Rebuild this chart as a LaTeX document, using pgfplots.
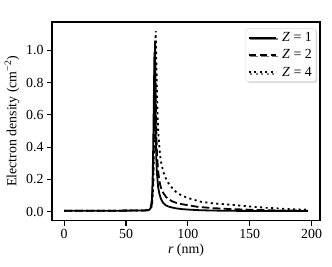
\documentclass[border=0pt]{standalone}
\usepackage{fontspec}
\setmainfont{Liberation Serif}
\usepackage{pgfplots}
\pgfplotsset{compat=1.18}
\usetikzlibrary{shadows}
\begin{document}
\begin{tikzpicture}
\begin{axis}[
  scale only axis,
  width=268pt, height=198.7pt,
  xmin=-9.85, xmax=206.85,
  ymin=-0.056, ymax=1.176,
  xtick={0,50,100,150,200},
  ytick={0,0.2,0.4,0.6,0.8,1.0},
  yticklabel style={/pgf/number format/.cd,fixed,fixed zerofill,precision=1},
  /pgf/number format/assume math mode=true,
  tick label style={font=\fontsize{13.9}{16}\selectfont},
  tick align=outside,
  major tick length=4.9pt,
  tick style={black, line width=1.1pt},
  xtick pos=bottom, ytick pos=left,
  axis line style={line width=1.1pt},
  xlabel={\textit{r} (nm)},
  ylabel={Electron density (cm\textsuperscript{−2})},
  label style={font=\fontsize{13.9}{16}\selectfont},
  xlabel style={at={(axis description cs:0.5,-0.148)}, anchor=center},
  ylabel style={at={(axis description cs:-0.149,0.5)}, anchor=center},
  legend style={at={(0.985,0.968)}, anchor=north east, draw=gray!30, rounded corners=2.5pt,
    fill=white, drop shadow={shadow xshift=1.5pt, shadow yshift=-1.5pt, fill=gray!55},
    font=\fontsize{13.9}{16}\selectfont, row sep=2.5pt, column sep=3pt, inner xsep=2pt, inner ysep=2pt},
  legend cell align=left,
  legend image code/.code={\draw[#1] (0pt,0pt) -- (27.5pt,0pt);},
  clip=true,
]
\addplot[black, line width=1.8pt] coordinates {
(0,0.006) (20,0.006) (40,0.006) (60,0.007) (66,0.008) (69,0.012) (70,0.025) (71,0.08) (71.5,0.2) (72,0.4) (72.5,0.7) (73,0.99) (73.5,0.8) (74,0.5) (74.5,0.33) (75,0.24) (76,0.15) (77,0.11) (78,0.085) (79,0.068) (80,0.055) (82,0.04) (85,0.03) (90,0.021) (95,0.016) (100,0.013) (110,0.009) (120,0.007) (140,0.005) (160,0.0045) (180,0.004) (197,0.004)
};
\addlegendentry{\textit{Z} = 1}
\addplot[black, line width=1.8pt, dash pattern=on 7.7pt off 3.3pt] coordinates {
(0,0.006) (20,0.006) (40,0.006) (60,0.007) (66,0.008) (69,0.011) (70,0.02) (71,0.05) (72,0.2) (72.5,0.45) (73,0.8) (73.5,1.06) (74,0.75) (74.5,0.5) (75,0.36) (76,0.25) (77,0.19) (78,0.155) (79,0.135) (80,0.118) (82,0.095) (84,0.078) (88,0.062) (92,0.051) (100,0.04) (108,0.03) (120,0.022) (135,0.016) (150,0.012) (165,0.009) (180,0.007) (197,0.006)
};
\addlegendentry{\textit{Z} = 2}
\addplot[black, line width=1.8pt, dash pattern=on 2.1pt off 3.4pt] coordinates {
(0,0.006) (20,0.006) (40,0.006) (60,0.007) (66,0.008) (69,0.01) (70,0.015) (71,0.04) (72,0.15) (72.5,0.35) (73,0.65) (73.5,0.95) (74,1.12) (74.5,0.95) (75,0.75) (75.5,0.6) (76,0.5) (77,0.4) (78,0.32) (80,0.25) (82,0.21) (84,0.18) (87,0.15) (90,0.125) (95,0.1) (100,0.085) (110,0.062) (120,0.052) (136,0.042) (150,0.032) (164,0.024) (180,0.017) (197,0.012)
};
\addlegendentry{\textit{Z} = 4}
\node[anchor=south west, inner sep=0pt, yshift=3pt, font=\fontsize{13.9}{16}\selectfont] at (rel axis cs:0,1) {×10\textsuperscript{13}};
\end{axis}
\pgfresetboundingbox
\path[use as bounding box] (current axis.south west) ++(-52pt,-45.3pt) rectangle ++(332pt,266pt);
\end{tikzpicture}
\end{document}
